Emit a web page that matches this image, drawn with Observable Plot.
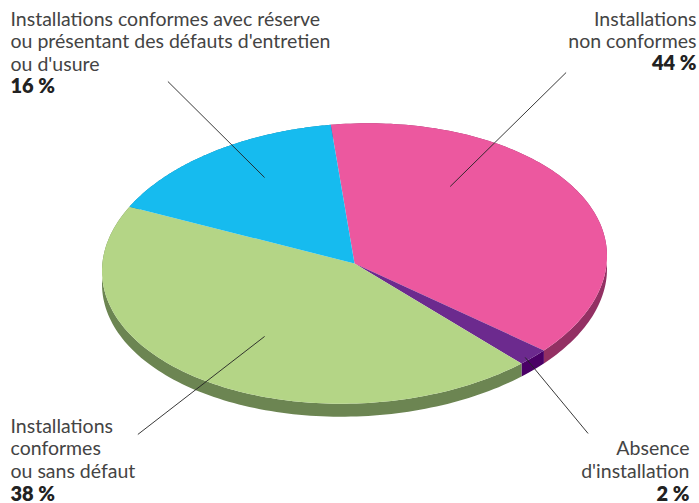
<!DOCTYPE html>
<html>
<head>
<meta charset="utf-8">
<script src="https://cdn.jsdelivr.net/npm/d3@7"></script>
<script src="https://cdn.jsdelivr.net/npm/@observablehq/plot@0.6"></script>
<style>
html,body{margin:0;padding:0;background:#fff}
svg{display:block}
</style>
</head>
<body>
<div id="chart"></div>
<script>
// Slice shares as drawn in the picture (clockwise); the printed labels are kept as they are
const sliceNames = ["Installations non conformes", "Absence d'installation", "Installations conformes ou sans défaut", "Installations conformes avec réserve"];
const sliceShares = [38, 2, 44, 16];
const startAngle = -5.4;
const topColors = ["#ec589f", "#6c2a8e", "#b4d586", "#16bbef"];
const sideColors = ["#933063", "#4a0066", "#6c8552", "#0f7fa3"];

const labelTexts = [
  "Installations conformes avec réserve\nou présentant des défauts d'entretien\nou d'usure",
  "Installations\nnon conformes",
  "Installations\nconformes\nou sans défaut",
  "Absence\nd'installation"
];
const labelValues = ["16 %", "44 %", "38 %", "2 %"];
const labelPlacement = [
  {frameAnchor: "top-left", dx: 10, dy: 9, line: 3},
  {frameAnchor: "top-right", dx: -3, dy: 9, line: 2},
  {frameAnchor: "bottom-left", dx: 10, dy: -3, line: 3},
  {frameAnchor: "bottom-right", dx: -10, dy: -3, line: 2}
];

// Leader lines in pie-radius units
const leaderStartX = [-0.356, 0.379, -0.356, 0.676];
const leaderStartY = [-0.614, -0.55, 0.521, 0.671];
const leaderEndX = [-0.739, 0.838, -0.858, 0.925];
const leaderEndY = [-1.30, -1.364, 1.221, 1.214];

const cx = 354, cy = 263, rx = 252.5, ry = 140, depth = 13, tilt = 0.03;
const W = 699, H = 503, lineGap = 22.6, fontSize = 19.5;

const rad = d => d * Math.PI / 180;
const tilted = (u, v) => [u, v - tilt * u * rx / ry];
const total = d3.sum(sliceShares);
const cum = d3.cumsum(sliceShares);
const faces = [], sides = [];
sliceNames.forEach((name, i) => {
  const a0 = startAngle + 360 * (cum[i] - sliceShares[i]) / total;
  const a1 = startAngle + 360 * cum[i] / total;
  const arc = d3.range(0, 121).map(k => a0 + (a1 - a0) * k / 120)
    .map(a => tilted(Math.sin(rad(a)), -Math.cos(rad(a))));
  faces.push({name, x: 0, y: 0});
  arc.forEach(([x, y]) => faces.push({name, x, y}));
  arc.forEach(([x, y]) => sides.push({name, x, y}));
  arc.slice().reverse().forEach(([x, y]) => sides.push({name, x, y: y + depth / ry}));
});

const leaders = leaderStartX.map((x1, i) => ({x1, y1: leaderStartY[i], x2: leaderEndX[i], y2: leaderEndY[i]}));
const font = "Lato";

const plot = Plot.plot({
  width: W, height: H,
  margin: 0,
  style: {fontFamily: font, background: "#fff"},
  x: {domain: [-cx / rx, (W - cx) / rx], range: [0, W], axis: null},
  y: {domain: [-cy / ry, (H - cy) / ry], range: [0, H], axis: null},
  marks: [
    Plot.line(sides, {x: "x", y: "y", z: "name", stroke: null, curve: "linear",
      fill: d => sideColors[sliceNames.indexOf(d.name)]}),
    Plot.line(faces, {x: "x", y: "y", z: "name", stroke: null, curve: "linear",
      fill: d => topColors[sliceNames.indexOf(d.name)]}),
    Plot.link(leaders, {x1: "x1", y1: "y1", x2: "x2", y2: "y2", stroke: "#222", strokeWidth: 0.9}),
    ...labelTexts.flatMap((t, i) => {
      const p = labelPlacement[i];
      const top = p.frameAnchor.startsWith("top");
      const align = p.frameAnchor.endsWith("left") ? "start" : "end";
      return [
        Plot.text([t], {text: d => d, frameAnchor: p.frameAnchor, textAnchor: align,
          lineAnchor: top ? "top" : "bottom", lineHeight: lineGap / fontSize,
          dx: p.dx, dy: top ? p.dy : p.dy - lineGap,
          fontSize, fill: "#444"}),
        Plot.text([labelValues[i]], {text: d => d, frameAnchor: p.frameAnchor, textAnchor: align,
          lineAnchor: top ? "top" : "bottom",
          dx: p.dx, dy: top ? p.dy + p.line * lineGap + 1 : p.dy,
          fontSize: 20, fontWeight: 800, fill: "#222"})
      ];
    })
  ]
});
document.getElementById("chart").append(plot);
</script>
</body>
</html>
